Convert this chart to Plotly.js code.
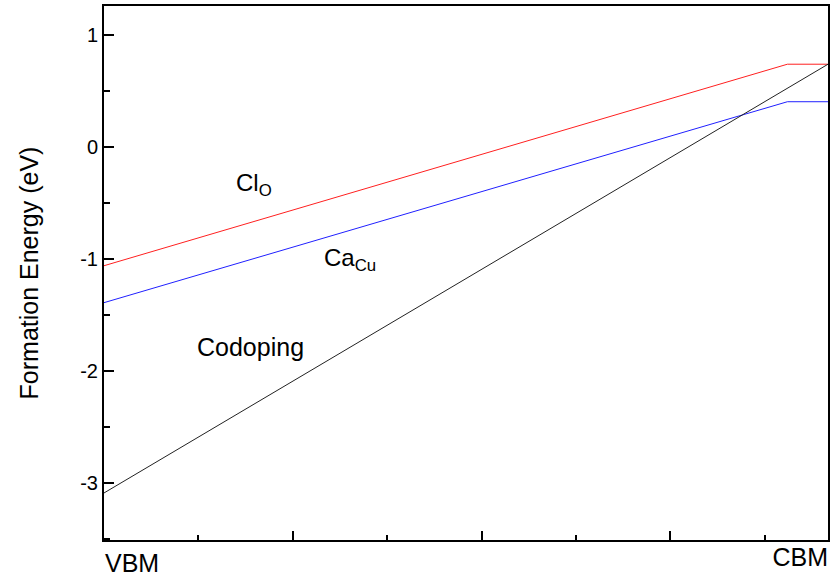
<!DOCTYPE html>
<html>
<head>
<meta charset="utf-8">
<script src="https://cdn.plot.ly/plotly-3.0.1.min.js"></script>
<style>
  html, body { margin: 0; padding: 0; background: #fff; }
  #chart { width: 831px; height: 577px; }
</style>
</head>
<body>
<div id="chart"></div>
<script>
// Energy position within the gap (eV above VBM)
const gapEdge = 3.835;          // CBM position
const pinLevel = 3.62;           // Fermi level where Cl_O / Ca_Cu flatten

const clX = [0, pinLevel, gapEdge];
const clY = [-1.06, 0.74, 0.74];

const caX = [0, pinLevel, gapEdge];
const caY = [-1.39, 0.405, 0.405];

const coX = [0, gapEdge];
const coY = [-3.09, 0.74];

const yTickVals = [-3, -2, -1, 0, 1];
const yTickText = ['-3', '-2', '-1', '0', '1'];
const xTickLabels = ['VBM', 'CBM'];

const labels = [
  { text: 'Cl<sub>O</sub>', x: 0.69, y: -0.33, size: 24 },
  { text: 'Ca<sub>Cu</sub>', x: 1.155, y: -1.0, size: 24 },
  { text: 'Codoping', x: 0.48, y: -1.79, size: 25 }
];

const FONT = 'Liberation Sans, Arial, sans-serif';
const xRange = [0, gapEdge];

const traces = [
  { x: clX, y: clY, mode: 'lines', line: { color: '#ff2020', width: 1 }, showlegend: false, hoverinfo: 'skip' },
  { x: caX, y: caY, mode: 'lines', line: { color: '#2020ff', width: 1 }, showlegend: false, hoverinfo: 'skip' },
  { x: coX, y: coY, mode: 'lines', line: { color: '#222222', width: 1 }, showlegend: false, hoverinfo: 'skip' },
  { x: [null], y: [null], mode: 'lines', xaxis: 'x2', yaxis: 'y', showlegend: false, hoverinfo: 'skip' },
  { x: [null], y: [null], mode: 'lines', xaxis: 'x3', yaxis: 'y', showlegend: false, hoverinfo: 'skip' }
];

const layout = {
  width: 831, height: 577,
  margin: { l: 104, r: 3, t: 6, b: 37 },
  paper_bgcolor: '#fff', plot_bgcolor: '#fff',
  font: { family: FONT, color: '#000' },
  showlegend: false,
  xaxis: {
    range: xRange, showgrid: false, zeroline: false,
    showline: true, linecolor: '#000', linewidth: 2, mirror: true,
    tickmode: 'array', tickvals: [0], ticktext: [xTickLabels[0]],
    ticks: '', ticklabelposition: 'outside right',
    tickfont: { size: 25, family: FONT, color: '#000' }
  },
  xaxis2: {
    range: xRange, overlaying: 'x', anchor: 'y', side: 'bottom',
    showgrid: false, zeroline: false, showline: false,
    tickmode: 'array', tickvals: [gapEdge], ticktext: [xTickLabels[1]],
    ticks: '', ticklabelposition: 'outside left',
    tickfont: { size: 25, family: FONT, color: '#000' }
  },
  xaxis3: {
    range: xRange, overlaying: 'x', anchor: 'y', side: 'bottom',
    showgrid: false, zeroline: false, showline: false,
    showticklabels: false,
    tickmode: 'linear', tick0: 0, dtick: 1,
    ticks: 'inside', ticklen: 9, tickwidth: 2, tickcolor: '#000',
    minor: { tickmode: 'linear', tick0: 0, dtick: 0.5, ticks: 'inside', ticklen: 5, tickwidth: 2, tickcolor: '#000' }
  },
  yaxis: {
    range: [-3.51, 1.26], showgrid: false, zeroline: false,
    showline: true, linecolor: '#000', linewidth: 2, mirror: true,
    tickmode: 'array', tickvals: yTickVals, ticktext: yTickText,
    ticks: 'inside', ticklen: 10, tickwidth: 2, tickcolor: '#000',
    minor: { tickmode: 'linear', tick0: 0, dtick: 0.5, ticks: 'inside', ticklen: 6, tickwidth: 2, tickcolor: '#000' },
    tickfont: { size: 20, family: FONT, color: '#000' },
    title: { text: 'Formation Energy (eV)', font: { size: 25, family: FONT, color: '#000' }, standoff: 34 }
  },
  annotations: labels.map(l => ({
    text: l.text, x: l.x, y: l.y, xref: 'x', yref: 'y',
    xanchor: 'left', yanchor: 'middle', showarrow: false,
    font: { size: l.size, family: FONT, color: '#000' }
  }))
};

Plotly.newPlot('chart', traces, layout, { displayModeBar: false, staticPlot: true });
</script>
</body>
</html>
